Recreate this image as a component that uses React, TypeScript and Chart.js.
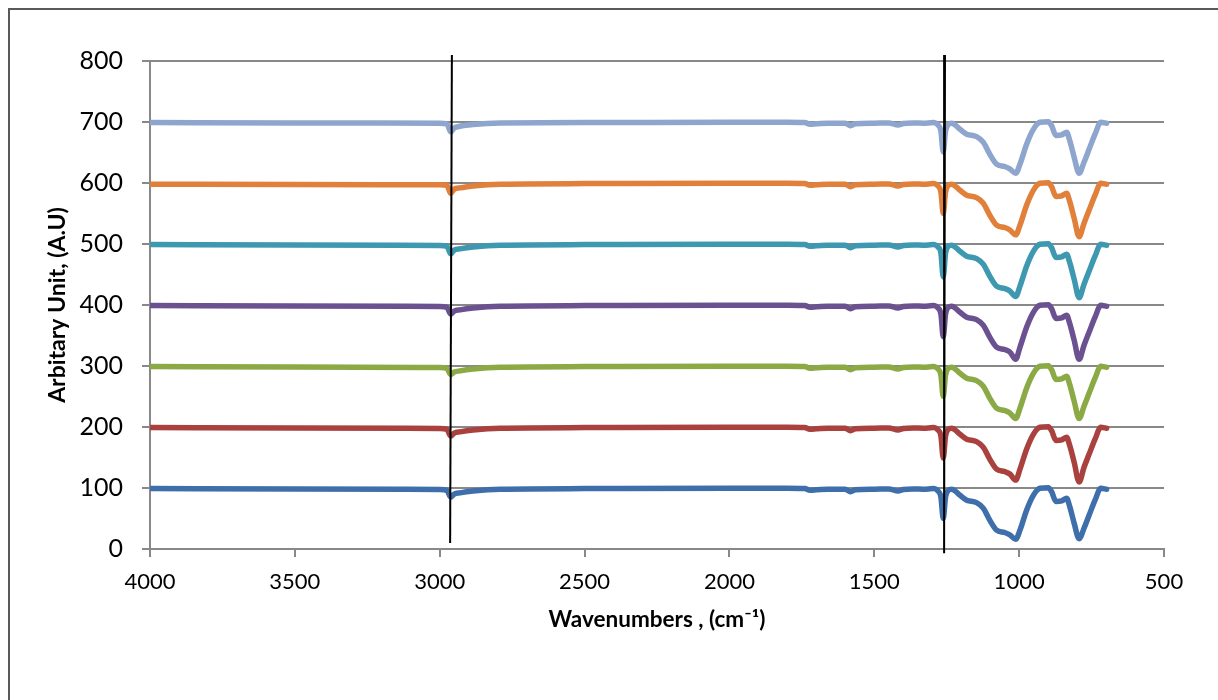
import React, { useEffect, useRef } from "react";
import { Chart, registerables } from "chart.js";

Chart.register(...registerables);

const wavenumbers = [4000, 3500, 3000, 2975, 2962, 2950, 2930, 2885, 2790, 2500, 2000, 1800, 1740, 1722, 1700, 1660, 1600, 1584, 1565, 1500, 1450, 1418, 1400, 1366, 1330, 1297, 1280, 1270, 1262, 1254, 1245, 1233, 1204, 1181, 1147, 1124, 1101, 1078, 1050, 1032, 1012, 997, 974, 951, 928, 899, 888, 873, 853, 836, 825, 810, 793, 776, 758, 738, 718, 698];

const series100 = [99, 98.5, 97.5, 96, 85, 90, 92, 95, 98, 99, 99.5, 99.5, 99, 96.5, 97, 98, 98, 94, 97, 98, 98.5, 95, 97.5, 98.5, 98, 99, 95, 85, 50, 85, 96, 98, 88, 80, 76, 67, 47, 31, 27, 23, 16, 31, 64, 88, 99.5, 100.5, 94, 78, 79, 83, 69, 42, 17, 34, 56, 80, 99.5, 98];
const series200 = [199, 198.5, 197.5, 196, 185, 190, 192, 195, 198, 199, 199.5, 199.5, 199, 196.5, 197, 198, 198, 194, 197, 198, 198.5, 195, 197.5, 198.5, 198, 199, 195, 185, 149, 185, 196, 198, 188, 180, 176, 167, 147, 131, 127, 123, 113, 131, 164, 188, 199.5, 200.5, 194, 178, 179, 183, 169, 142, 110, 134, 156, 180, 199.5, 198];
const series300 = [299, 298.5, 297.5, 296, 286, 290, 292, 295, 298, 299, 299.5, 299.5, 299, 296.5, 297, 298, 298, 294, 297, 298, 298.5, 295, 297.5, 298.5, 298, 299, 295, 285, 250, 285, 296, 298, 288, 280, 276, 267, 247, 231, 227, 223, 214, 231, 264, 288, 299.5, 300.5, 294, 278, 279, 283, 269, 242, 214, 234, 256, 280, 299.5, 298];
const series400 = [399, 398.5, 397.5, 396, 385, 390, 392, 395, 398, 399, 399.5, 399.5, 399, 396.5, 397, 398, 398, 394, 397, 398, 398.5, 395, 397.5, 398.5, 398, 399, 395, 385, 348, 385, 396, 398, 388, 380, 376, 367, 347, 331, 327, 323, 311, 331, 364, 388, 399.5, 400.5, 394, 378, 379, 383, 369, 342, 311, 334, 356, 380, 399.5, 398];
const series500 = [499, 498.5, 497.5, 496, 484, 490, 492, 495, 498, 499, 499.5, 499.5, 499, 496.5, 497, 498, 498, 494, 497, 498, 498.5, 495, 497.5, 498.5, 498, 499, 495, 485, 446, 485, 496, 498, 488, 480, 476, 467, 447, 431, 427, 423, 414, 431, 464, 488, 499.5, 500.5, 494, 478, 479, 483, 469, 442, 412, 434, 456, 480, 499.5, 498];
const series600 = [598, 597.5, 597, 596, 583, 590, 592, 595, 598, 599, 599.5, 599.5, 599, 596.5, 597, 598, 598, 594, 597, 598, 598.5, 595, 597.5, 598.5, 598, 599, 595, 585, 550, 585, 596, 598, 588, 580, 576, 567, 547, 531, 527, 523, 515, 531, 564, 588, 599.5, 600.5, 594, 578, 579, 583, 569, 542, 512, 534, 556, 580, 599.5, 598];
const series700 = [699, 698.5, 698, 697, 684, 690, 693, 696, 698.5, 699, 699.5, 699.5, 699, 696.5, 697, 698, 698, 694, 697, 698, 698.5, 695, 697.5, 698.5, 698, 699, 695, 685, 651, 685, 696, 698, 688, 680, 676, 667, 647, 631, 627, 623, 616, 631, 664, 688, 699.5, 700.5, 694, 678, 679, 683, 669, 642, 616, 634, 656, 680, 699.5, 698];

const allSeries = [series100, series200, series300, series400, series500, series600, series700];
const seriesColors = ["#3F6FAA", "#A9413F", "#8BAA46", "#6C5191", "#3D98B0", "#E0803A", "#8EA6CE"];

const markerLineA = { x: [2958, 2964], y: [810, 10] };
const markerLineB = { x: [1256, 1259], y: [810, -7] };

const yTicks = [0, 100, 200, 300, 400, 500, 600, 700, 800];
const xTicks = [4000, 3500, 3000, 2500, 2000, 1500, 1000, 500];

const yTitle = "Arbitary Unit, (A.U)";
const xTitle = "Wavenumbers , (cm⁻¹)";

export default function App() {
  const ref = useRef<HTMLCanvasElement>(null);

  useEffect(() => {
    document.documentElement.style.overflow = "hidden";
    const canvas = ref.current;
    if (!canvas) return;

    const lineDatasets = allSeries.map((vals, i) => ({
      label: String((i + 1) * 100),
      data: wavenumbers.map((w, j) => ({ x: w, y: vals[j] })),
      borderColor: seriesColors[i],
      backgroundColor: seriesColors[i],
      borderWidth: 5.5,
      pointRadius: 0,
      cubicInterpolationMode: "monotone" as const,
      borderJoinStyle: "round" as const,
      borderCapStyle: "round" as const,
      order: 1,
    }));

    const markers = [markerLineA, markerLineB].map((m, i) => ({
      label: "marker" + i,
      data: m.x.map((x, j) => ({ x, y: m.y[j] })),
      borderColor: "#000000",
      borderWidth: 2,
      pointRadius: 0,
      clip: false as const,
      order: 0,
    }));

    const chart = new Chart(canvas, {
      type: "line",
      data: { datasets: [...markers, ...lineDatasets] as any },
      options: {
        animation: false,
        responsive: false,
        maintainAspectRatio: false,
        layout: { padding: { top: 61, right: 54, left: 0, bottom: 0 } },
        plugins: { legend: { display: false }, tooltip: { enabled: false } },
        scales: {
          x: {
            type: "linear",
            min: 500,
            max: 4000,
            reverse: true,
            afterFit: (s: any) => { s.height = 151; },
            afterBuildTicks: (s: any) => { s.ticks = xTicks.map((v) => ({ value: v })); },
            ticks: {
              color: "#000",
              padding: 12,
              maxRotation: 0,
              font: { family: "Lato", size: 22 },
              callback: (v: any) => String(v),
            },
            grid: { drawOnChartArea: false, drawTicks: true, tickLength: 8, color: "#888888", lineWidth: 2 },
            border: { display: true, color: "#888888", width: 2 },
            title: {
              display: true,
              text: xTitle,
              color: "#000",
              font: { family: "Lato", size: 22.5, weight: "bold" },
              padding: { top: 0, bottom: 67 },
            },
          },
          y: {
            type: "linear",
            min: 0,
            max: 800,
            afterFit: (s: any) => { s.width = 150; },
            afterBuildTicks: (s: any) => { s.ticks = yTicks.map((v) => ({ value: v })); },
            ticks: {
              color: "#000",
              padding: 19,
              font: { family: "Lato", size: 25 },
              callback: (v: any) => String(v),
            },
            grid: { color: "#888888", lineWidth: 2, tickLength: 8 },
            border: { display: true, color: "#888888", width: 2 },
            title: {
              display: true,
              text: yTitle,
              color: "#000",
              font: { family: "Lato", size: 23, weight: "bold" },
              padding: { top: 44, bottom: 0 },
            },
          },
        },
      },
    });
    return () => chart.destroy();
  }, []);

  return (
    <>
      <div
        style={{
          position: "fixed",
          left: 8,
          top: 8,
          width: 1240,
          height: 720,
          border: "2px solid #595959",
          boxSizing: "border-box",
          background: "#fff",
        }}
      />
      <canvas
        ref={ref}
        width={1218}
        height={700}
        style={{ position: "fixed", left: 0, top: 0, width: 1218, height: 700 }}
      />
    </>
  );
}
